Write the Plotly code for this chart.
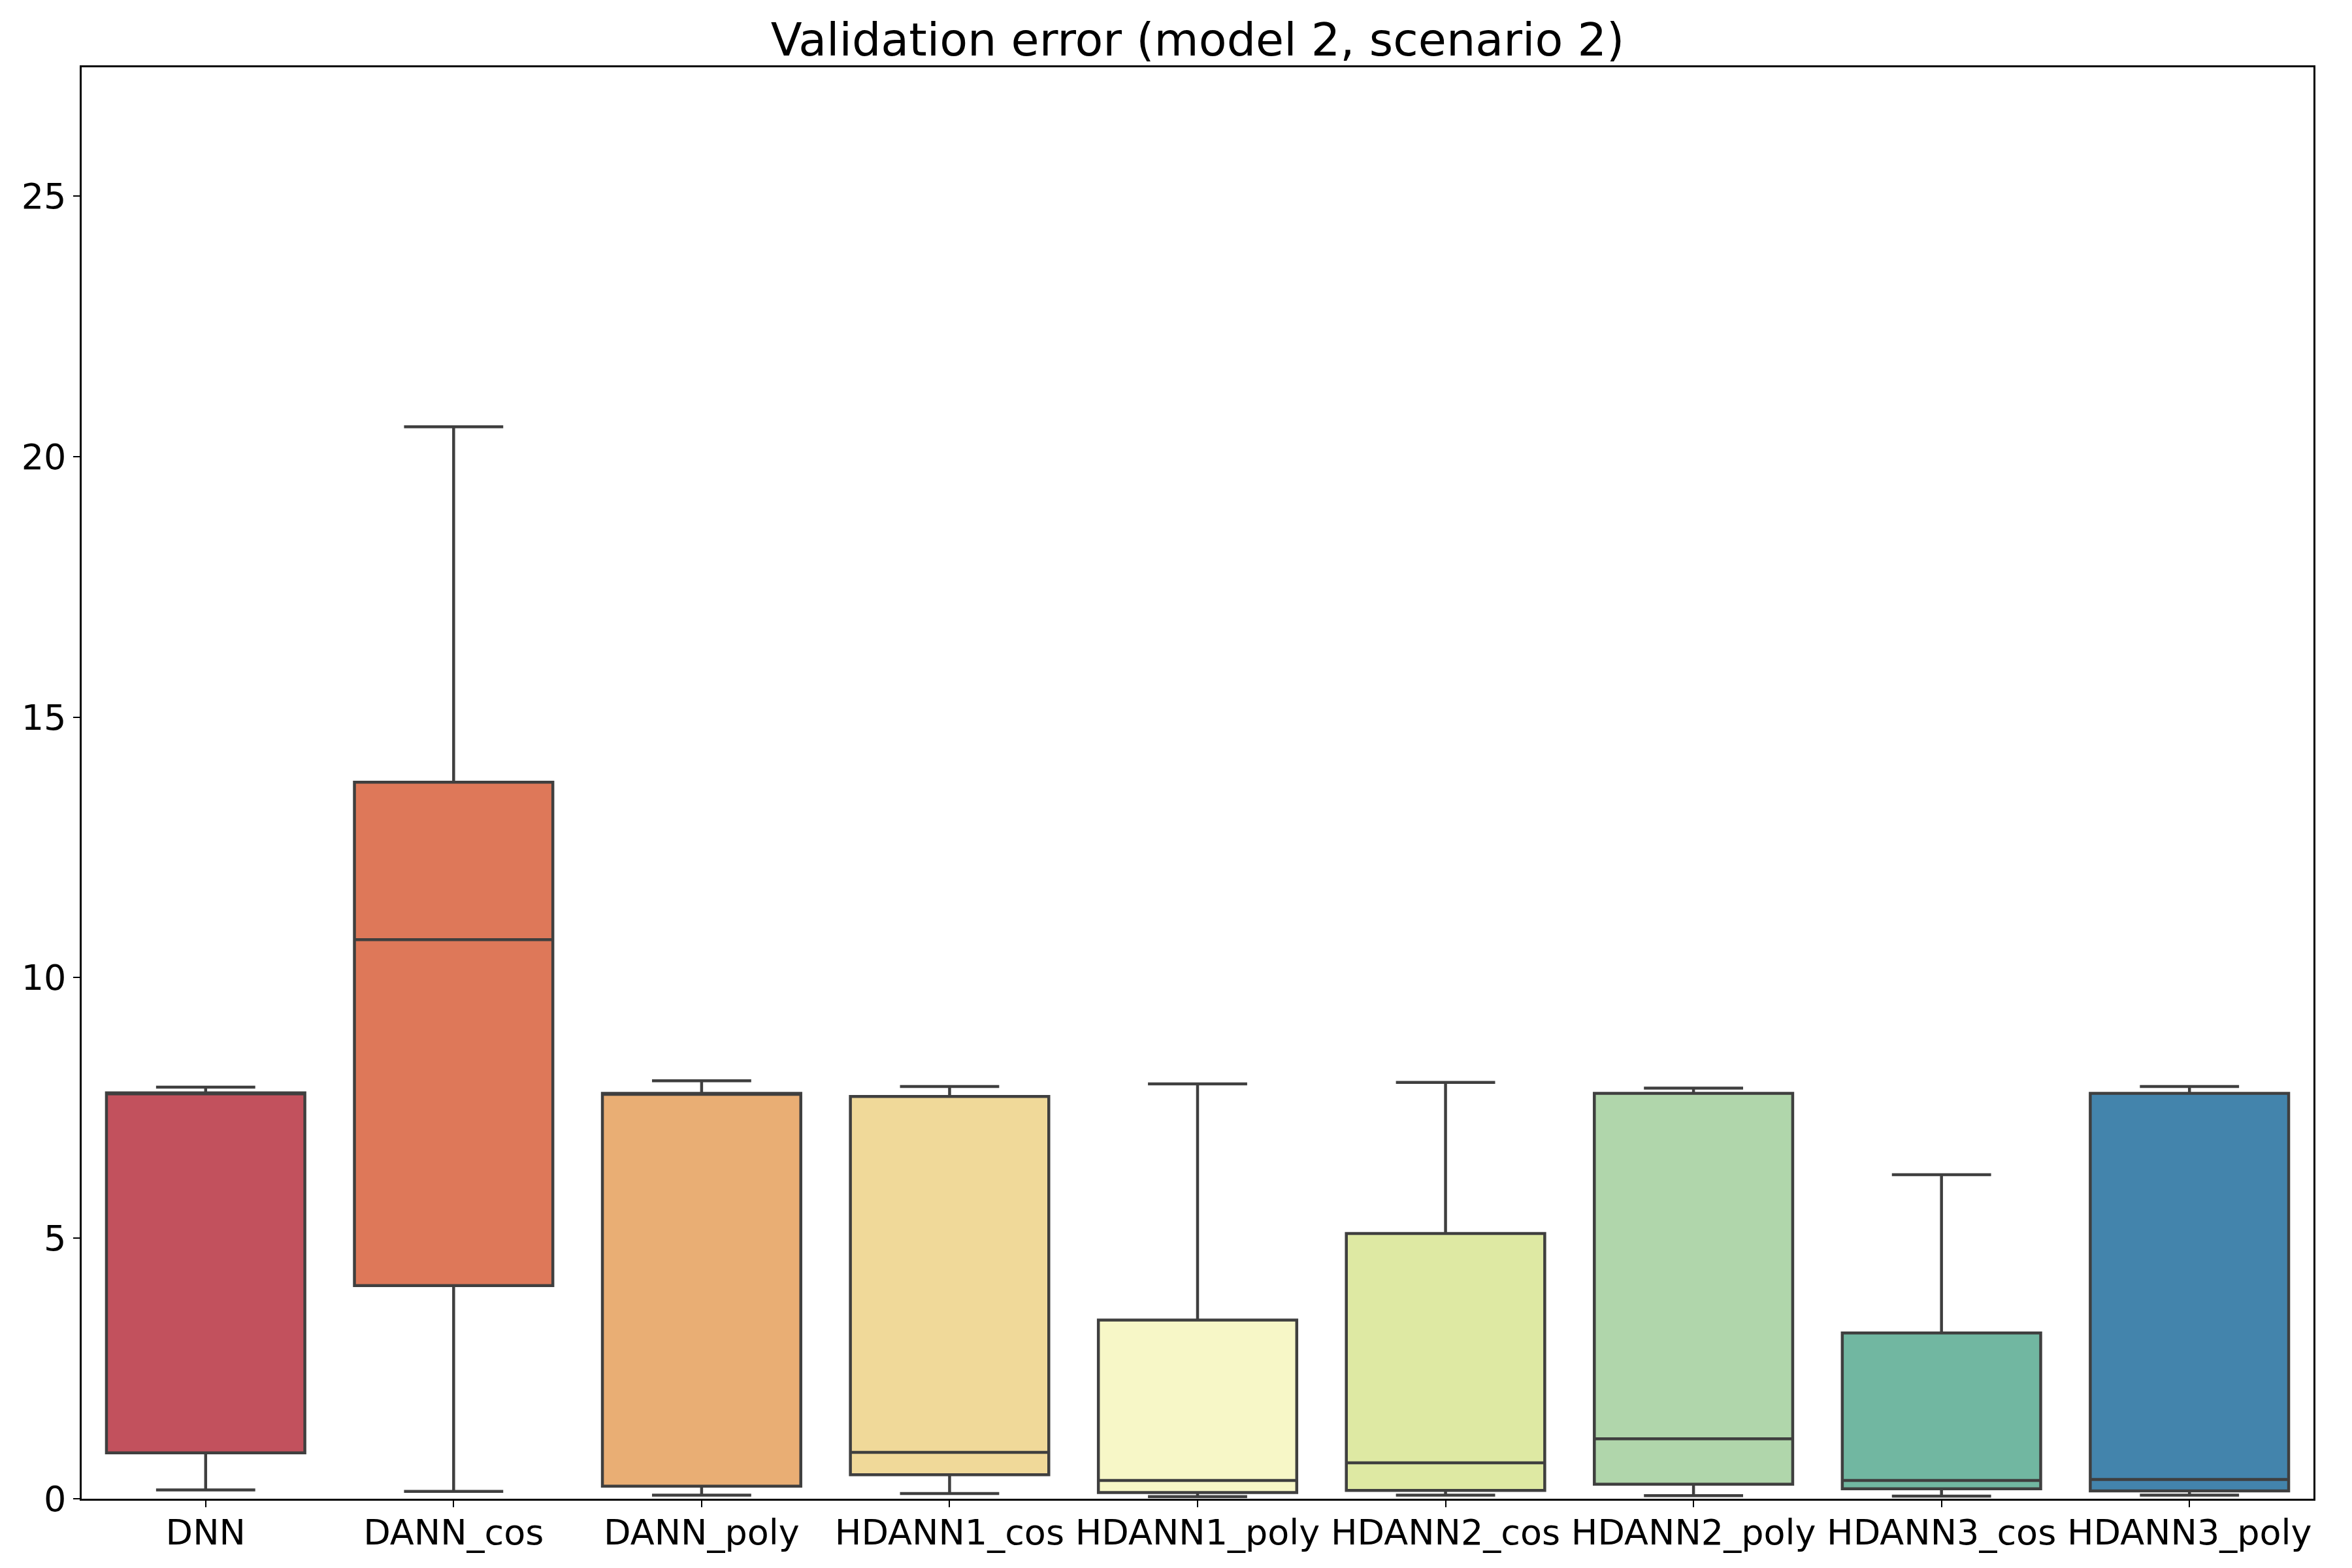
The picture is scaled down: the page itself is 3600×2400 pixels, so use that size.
import plotly.graph_objects as go

# values
categories = ['DNN', 'DANN_cos', 'DANN_poly', 'HDANN1_cos', 'HDANN1_poly',
              'HDANN2_cos', 'HDANN2_poly', 'HDANN3_cos', 'HDANN3_poly']
lower = [0.17, 0.14, 0.07, 0.10, 0.04, 0.07, 0.06, 0.05, 0.07]
q1 = [0.88, 4.09, 0.24, 0.46, 0.12, 0.16, 0.28, 0.19, 0.15]
median = [7.77, 10.73, 7.76, 0.89, 0.35, 0.69, 1.15, 0.35, 0.37]
q3 = [7.79, 13.75, 7.78, 7.72, 3.43, 5.09, 7.78, 3.18, 7.78]
upper = [7.90, 20.57, 8.02, 7.91, 7.96, 7.99, 7.88, 6.22, 7.91]

colors = ['#C2515D', '#DE7859', '#E9AE74', '#F0D999', '#F7F7C7',
          '#DEE9A3', '#B0D6AB', '#71B7A1', '#4384AC']

fig = go.Figure()
for i, cat in enumerate(categories):
    fig.add_trace(go.Box(x=[cat], q1=[q1[i]], median=[median[i]], q3=[q3[i]],
                         lowerfence=[lower[i]], upperfence=[upper[i]],
                         fillcolor=colors[i], line=dict(color='#3F3F3F', width=4.5),
                         width=0.8, whiskerwidth=0.5, boxpoints=False,
                         showlegend=False, hoverinfo='skip'))

fig.update_layout(title=dict(text='Validation error (model 2, scenario 2)',
                             x=0.5, xref='paper', xanchor='center',
                             y=1 - 52 / 2400, yref='container', yanchor='middle',
                             font=dict(size=70, color='black')),
                  width=3600, height=2400,
                  margin=dict(l=117, r=67, t=95, b=114),
                  font=dict(family='DejaVu Sans', color='black'),
                  plot_bgcolor='white', paper_bgcolor='white',
                  boxmode='overlay')
fig.update_xaxes(type='category', range=[-0.5, 8.5], showgrid=False, zeroline=False,
                 showline=True, linecolor='black', linewidth=2.5, mirror=True,
                 ticks='outside', ticklen=10, tickwidth=2, tickcolor='black',
                 ticklabelstandoff=-8,
                 tickfont=dict(size=54, color='black'))
fig.update_yaxes(range=[0, 27.47], tickvals=[0, 5, 10, 15, 20, 25], showgrid=False,
                 zeroline=False, showline=True, linecolor='black', linewidth=2.5,
                 mirror=True, ticks='outside', ticklen=10, tickwidth=2, tickcolor='black',
                 tickfont=dict(size=54, color='black'))

fig.write_html("out.html")
